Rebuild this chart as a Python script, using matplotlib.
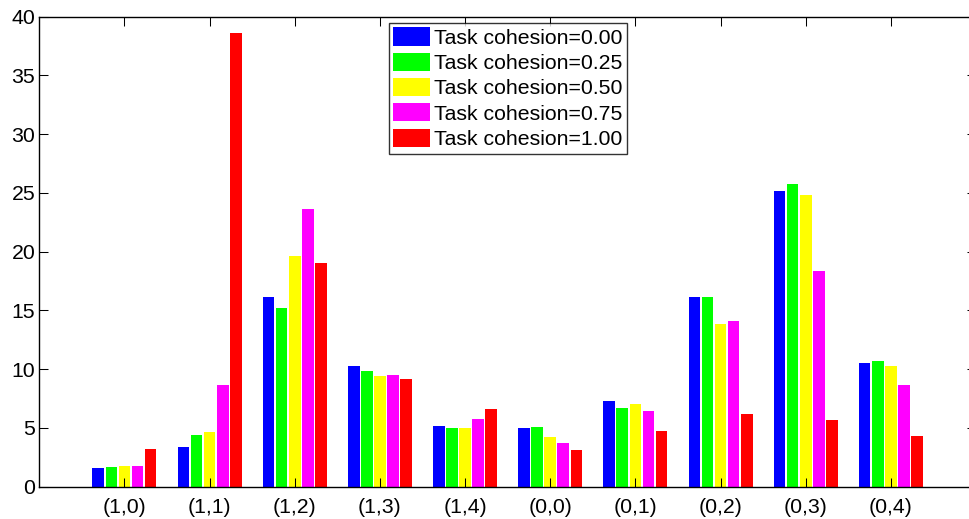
import matplotlib
matplotlib.use("Agg")
import matplotlib.pyplot as plt
import numpy as np

categories = ["(1,0)", "(1,1)", "(1,2)", "(1,3)", "(1,4)",
              "(0,0)", "(0,1)", "(0,2)", "(0,3)", "(0,4)"]
series_labels = ["Task cohesion=0.00", "Task cohesion=0.25", "Task cohesion=0.50",
                 "Task cohesion=0.75", "Task cohesion=1.00"]
coh_000 = [1.62, 3.35, 16.14, 10.24, 5.13, 5.02, 7.26, 16.17, 25.13, 10.55]
coh_025 = [1.65, 4.43, 15.20, 9.84, 5.02, 5.10, 6.72, 16.11, 25.76, 10.72]
coh_050 = [1.76, 4.68, 19.60, 9.42, 4.99, 4.23, 7.00, 13.84, 24.79, 10.30]
coh_075 = [1.79, 8.65, 23.60, 9.50, 5.73, 3.72, 6.44, 14.10, 18.35, 8.65]
coh_100 = [3.18, 38.58, 19.06, 9.16, 6.58, 3.12, 4.71, 6.18, 5.70, 4.28]
series = [coh_000, coh_025, coh_050, coh_075, coh_100]
colors = ["#0000ff", "#00ff00", "#ffff00", "#ff00ff", "#ff0000"]

plt.rcParams['font.family'] = ['Liberation Sans', 'DejaVu Sans']
fig = plt.figure(figsize=(9.69, 5.19), dpi=100)
ax = fig.add_axes([39.3/969, 1-486.7/519, (976-39.3)/969, (486.7-16.7)/519])

n = len(series)
x = np.arange(1, len(categories)+1)
group_w = min(0.8, n/(n+1.5))
slot = group_w/n
for i, (vals, c, lab) in enumerate(zip(series, colors, series_labels)):
    off = -group_w/2 + slot*(i+0.5)
    ax.bar(x+off, vals, width=slot*0.89, color=c, edgecolor='none', label=lab)

ax.set_xlim(0, 11)
ax.set_ylim(0, 40)
ax.set_xticks(x)
ax.set_xticklabels(categories)
ax.set_yticks(np.arange(0, 41, 5))
ax.tick_params(direction='in', length=6.5, width=0.75, top=True, right=True,
               labelsize=15.3, colors='black')
ax.tick_params(axis='x', pad=8)
ax.tick_params(axis='y', pad=3)
for s in ax.spines.values():
    s.set_linewidth(1.0)

leg = ax.legend(loc='upper left', bbox_to_anchor=(388.7/969, 1-22.7/519),
                bbox_transform=fig.transFigure, fontsize=15.3, frameon=True,
                fancybox=False, edgecolor='black', handlelength=1.7, handleheight=0.94,
                handletextpad=0.2, labelspacing=0.23, borderpad=0.22, borderaxespad=0)
leg.get_frame().set_linewidth(1.0)

fig.savefig("out.png", dpi=100)
